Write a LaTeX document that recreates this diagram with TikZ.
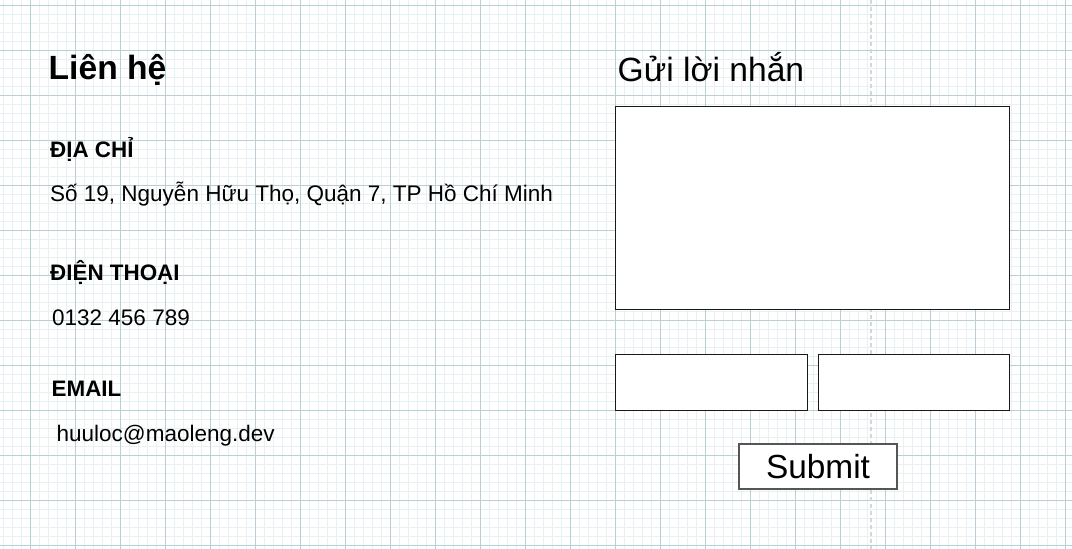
\documentclass[tikz,border=0pt]{standalone}
\usepackage{fontspec}
\setmainfont{Liberation Sans}
\definecolor{gridmajor}{HTML}{B8D0D3}
\definecolor{gridminor}{HTML}{E8F1F1}
\definecolor{dashgray}{HTML}{D6D6D6}
\definecolor{btnborder}{HTML}{555555}
\tikzset{
  minorline/.style={draw=gridminor, line width=0.8pt},
  majorline/.style={draw=gridmajor, line width=0.9pt},
  txt/.style={inner sep=0pt, anchor=base west, text=black},
  body/.style={txt, font=\fontsize{22.5}{26}\selectfont},
  head/.style={txt, font=\bfseries\fontsize{22.4}{26}\selectfont},
  big/.style={txt, font=\fontsize{33.6}{38}\selectfont},
  field/.style={draw=black!90, line width=1.3pt, fill=white, inner sep=0pt, anchor=north west},
  button/.style={draw=btnborder, line width=1.5pt, fill=white, inner sep=0pt, font=\fontsize{33.4}{38}\selectfont},
}
\begin{document}
\begin{tikzpicture}[x=1pt, y=-1pt]
\useasboundingbox (0,0) rectangle (1072,549);
\fill[white] (0,0) rectangle (1072,549);
% grid
\foreach \k in {0,...,118} \draw[minorline] (3+9*\k,0) -- (3+9*\k,549);
\foreach \k in {0,...,60} \draw[minorline] (0,5+9*\k) -- (1072,5+9*\k);
\foreach \k in {0,...,23} \draw[majorline] (30+45*\k,0) -- (30+45*\k,549);
\foreach \k in {0,...,12} \draw[majorline] (0,5+45*\k) -- (1072,5+45*\k);
% dashed guide
\coordinate (gtop) at (871,0);
\coordinate (gbot) at (871,549);
\draw[dashgray, line width=2pt, dash pattern=on 4pt off 3pt] (gtop) -- (gbot);
% left column
\node[txt, font=\bfseries\fontsize{33.6}{38}\selectfont] (title) at (48.5,79.5) {Liên hệ};
\node[head] (addrh) at (50,157) {ĐỊA CHỈ};
\node[body] (addr) at (50,201.5) {Số 19, Nguyễn Hữu Thọ, Quận 7, TP Hồ Chí Minh};
\node[head] (phoneh) at (50,280.5) {ĐIỆN THOẠI};
\node[body] (phone) at (52,325) {0132 456 789};
\node[head] (mailh) at (51.5,396) {EMAIL};
\node[body] (mail) at (56.5,441) {huuloc@maoleng.dev};
% right column
\node[big] (formtitle) at (617.5,81.5) {Gửi lời nhắn};
\node[field, minimum width=394pt, minimum height=203pt] (message) at (615,106) {};
\node[field, minimum width=192pt, minimum height=56pt] (name) at (615,354) {};
\node[field, minimum width=191pt, minimum height=56pt] (email) at (818,354) {};
\node[button, minimum width=158pt, minimum height=45pt] (submit) at (818,466.5) {Submit};
\end{tikzpicture}
\end{document}
